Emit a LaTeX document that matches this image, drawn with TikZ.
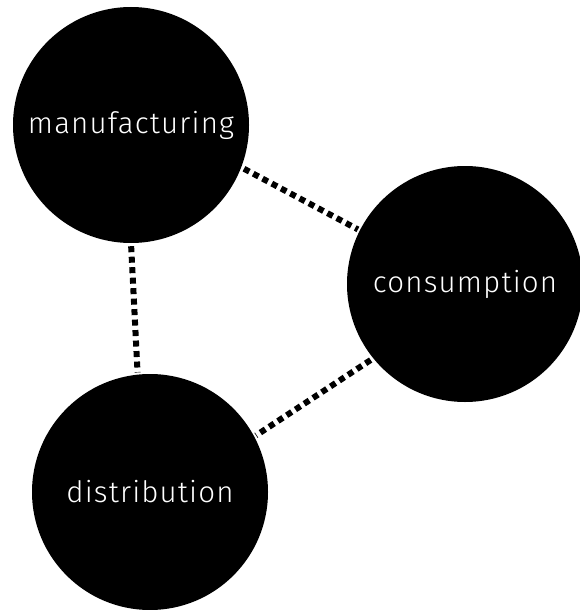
\documentclass[tikz,border=0pt]{standalone}
\usepackage{fontspec}
\newfontfamily\stagefont{Fira Sans Light}[LetterSpace=4]
\begin{document}
\begin{tikzpicture}[x=1pt,y=-1pt,
  stage/.style={circle,fill=black,text=white,minimum size=236pt,inner sep=0pt,
    font=\stagefont\fontsize{29.5}{34}\selectfont},
  link/.style={line width=6pt,dash pattern=on 6pt off 4.5pt,shorten <=3pt,shorten >=2pt}]
  \useasboundingbox (0,0) rectangle (579,610);
  \node[stage] (manu) at (131,125) {manufacturing};
  \node[stage] (cons) at (465,284) {consumption};
  \node[stage] (dist) at (150,492) {distribution};

  \draw[link] (manu.-21) -- (cons.153);
  \draw[link] (manu.270) -- (dist.96);
  \draw[link] (cons.219) -- (dist.28);
\end{tikzpicture}
\end{document}
